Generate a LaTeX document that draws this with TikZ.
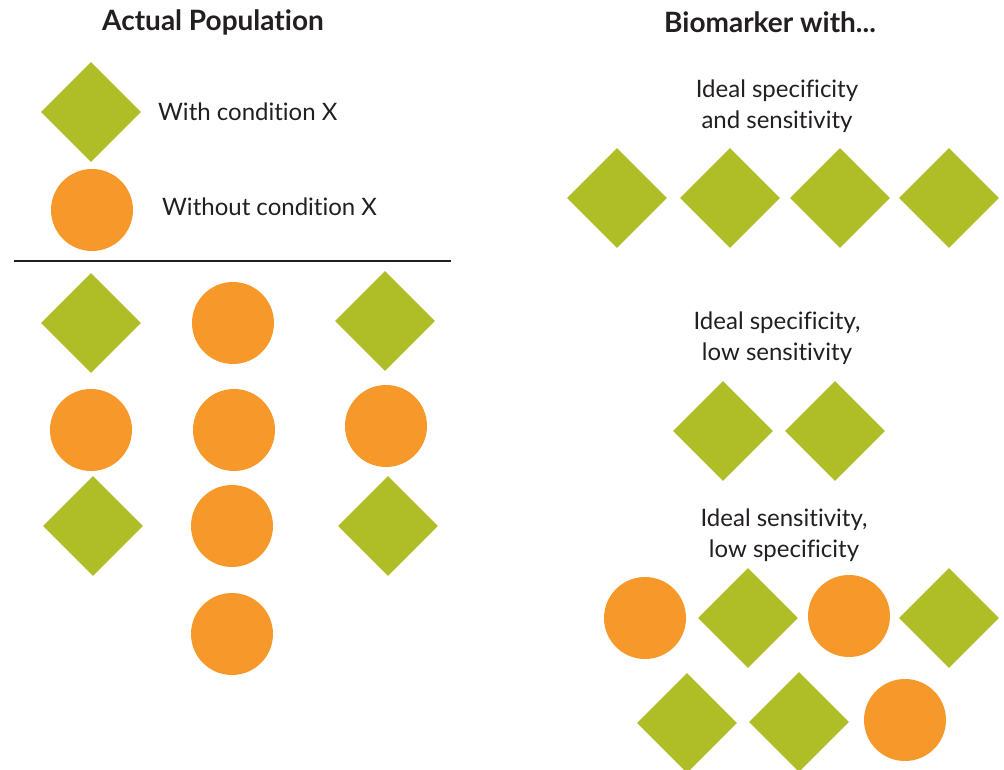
\documentclass[tikz,border=0pt]{standalone}
\usepackage{fontspec}
\setmainfont{Lato}[Ligatures=NoCommon]
\usetikzlibrary{shapes.geometric}
\definecolor{gr}{HTML}{AFBD26}
\definecolor{org}{HTML}{F7992A}
\definecolor{txt}{HTML}{231F20}
\begin{document}
\begin{tikzpicture}[x=1pt,y=-1pt,
  dia/.style={diamond,fill=gr,draw=none,minimum width=100pt,minimum height=100pt,inner sep=0pt},
  circ/.style={circle,fill=org,draw=none,minimum size=82pt,inner sep=0pt},
  ttl/.style={font=\fontsize{28}{32}\selectfont\bfseries,text=txt,inner sep=0pt},
  lbl/.style={font=\fontsize{24}{31}\selectfont,text=txt,inner sep=0pt,align=center}]
\useasboundingbox (0,0) rectangle (1004,770);
\clip (0,0) rectangle (1004,770);
% titles
\node[ttl] (t1) at (213,22) {Actual Population};
\node[ttl] (t2) at (770,22) {Biomarker with...};
% legend
\node[dia] (ld) at (91,112) {};
\node[lbl,anchor=west] (lt1) at (158,112) {With condition X};
\node[circ] (lc) at (92,210) {};
\node[lbl,anchor=west] (lt2) at (162,207) {Without condition X};
\coordinate (la) at (14,261);
\coordinate (lb) at (451,261);
\draw[line width=2pt,txt] (la) -- (lb);
% population grid
\node[dia] (p1) at (91,323) {};
\node[circ] (p2) at (233,323) {};
\node[dia] (p3) at (385,321) {};
\node[circ] (p4) at (91,430) {};
\node[circ] (p5) at (234,430) {};
\node[circ] (p6) at (386,426) {};
\node[dia] (p7) at (93,526) {};
\node[circ] (p8) at (232,526) {};
\node[dia] (p9) at (388,526) {};
\node[circ] (p10) at (232,634) {};
% right: ideal
\node[lbl] (r1) at (777,106) {Ideal specificity\\and sensitivity};
\node[dia] (a1) at (617,198) {};
\node[dia] (a2) at (730,198) {};
\node[dia] (a3) at (840,198) {};
\node[dia] (a4) at (949,198) {};
% low sensitivity
\node[lbl] (r2) at (777,338) {Ideal specificity,\\low sensitivity};
\node[dia] (b1) at (723,431) {};
\node[dia] (b2) at (835,431) {};
% low specificity
\node[lbl] (r3) at (784,535) {Ideal sensitivity,\\low specificity};
\node[circ] (c1) at (645,618) {};
\node[dia] (c2) at (748,618) {};
\node[circ] (c3) at (849,616) {};
\node[dia] (c4) at (949,618) {};
\node[dia] (c5) at (687,723) {};
\node[dia] (c6) at (799,722) {};
\node[circ] (c7) at (905,720) {};
\end{tikzpicture}
\end{document}
